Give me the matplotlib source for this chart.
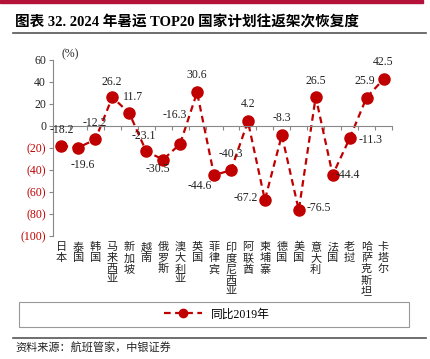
import matplotlib
matplotlib.use("Agg")
import matplotlib.pyplot as plt
import matplotlib.transforms as mtransforms
from matplotlib.patches import Rectangle
from matplotlib.lines import Line2D

plt.rcParams['font.family'] = ['Liberation Serif', 'Noto Sans CJK SC', 'DejaVu Sans']

# data
countries = ["日本", "泰国", "韩国", "马来西亚", "新加坡", "越南", "俄罗斯", "澳大利亚",
             "英国", "菲律宾", "印度尼西亚", "阿联酋", "柬埔寨", "德国", "美国", "意大利",
             "法国", "老挝", "哈萨克斯坦", "卡塔尔"]
values = [-18.2, -19.6, -12.2, 26.2, 11.7, -23.1, -30.5, -16.3, 30.6, -44.6,
          -40.3, 4.2, -67.2, -8.3, -76.5, 26.5, -44.4, -11.3, 25.9, 42.5]
y_ticks = [60, 40, 20, 0, -20, -40, -60, -80, -100]
y_ticklabels = ["60", "40", "20", "0", "(20)", "(40)", "(60)", "(80)", "(100)"]

# label offsets in pixels (dx, dy)
offsets = [(0, 16), (4, -17), (-1, 16), (-1, 15), (4, 16), (-2, 15), (-5, -9), (-5, 29),
           (0, 17), (-14, -11), (0, 16), (0, 17), (-19, 2), (0, 17), (20, 2), (0, 16),
           (15, 0), (21, -2), (-2, 17), (0, 17)]

red = "#C00000"
W, H = 430, 359
fig = plt.figure(figsize=(W / 100, H / 100), dpi=100)

# header decorations
fig.add_artist(Rectangle((0, 1 - 3 / H), 423 / W, 3 / H, color="#B5123A",
                         transform=fig.transFigure))
fig.text(15 / W, 1 - 22 / H, "图表 32. 2024 年暑运 TOP20 国家计划往返架次恢复度",
         fontsize=10.5, fontweight="bold", va="center", ha="left")
fig.add_artist(Line2D([13 / W, 426 / W], [1 - 33 / H, 1 - 33 / H], color="#555555", lw=1.2))

ax = fig.add_axes([53 / W, 1 - 236 / H, (392 - 53) / W, (236 - 60) / H])
x = list(range(len(countries)))
ax.plot(x, values, color=red, linestyle=(0, (3, 2)), lw=1.6, marker="o", markersize=8,
        label="同比2019年")

for xi, v, (dx, dy) in zip(x, values, offsets):
    ax.annotate(f"{v:.1f}", (xi, v), xytext=(dx, dy), textcoords="offset pixels",
                ha="center", va="center", fontsize=8.5, color="#222222")

ax.set_xlim(-0.5, len(countries) - 0.5)
ax.set_ylim(-100, 60)
ax.set_yticks(y_ticks)
ax.set_yticklabels(y_ticklabels, fontsize=8.5)
for lbl, v in zip(ax.get_yticklabels(), y_ticks):
    lbl.set_color(red if v < 0 else "#222222")

for s in ["top", "right"]:
    ax.spines[s].set_visible(False)
ax.spines["bottom"].set_position(("data", 0))
ax.spines["bottom"].set_color("#888888")
ax.spines["left"].set_color("#888888")
ax.set_xticks([i - 0.5 for i in range(len(countries) + 1)])
ax.set_xticklabels([])
ax.tick_params(axis="x", direction="out", length=3, color="#888888")
ax.tick_params(axis="y", direction="out", length=3, color="#888888", pad=2)

trans = mtransforms.blended_transform_factory(ax.transData, ax.transAxes)
for xi, name in zip(x, countries):
    ax.text(xi, -0.035, "\n".join(name), transform=trans, ha="center", va="top",
            fontsize=8, linespacing=1.12, color="#222222")

ax.text(9 / (392 - 53), 1.0, "(%)", transform=ax.transAxes, fontsize=8.5,
        ha="left", va="bottom", color="#222222")

# legend box
fig.add_artist(Rectangle((19 / W, 1 - 327 / H), 390 / W, 25 / H, fill=False,
                         edgecolor="#999999", lw=0.8, transform=fig.transFigure))
fig.legend(handles=ax.get_lines(), loc="center", bbox_to_anchor=(217 / W, 1 - 314.5 / H),
           frameon=False, fontsize=8.5, handlelength=3.2, markerscale=0.75)

fig.add_artist(Line2D([13 / W, 426 / W], [1 - 338 / H, 1 - 338 / H], color="#555555", lw=1.2))
fig.text(15 / W, 1 - 348 / H, "资料来源：航班管家，中银证券", fontsize=8,
         va="center", ha="left", color="#222222")

fig.savefig("out.png", dpi=100)
